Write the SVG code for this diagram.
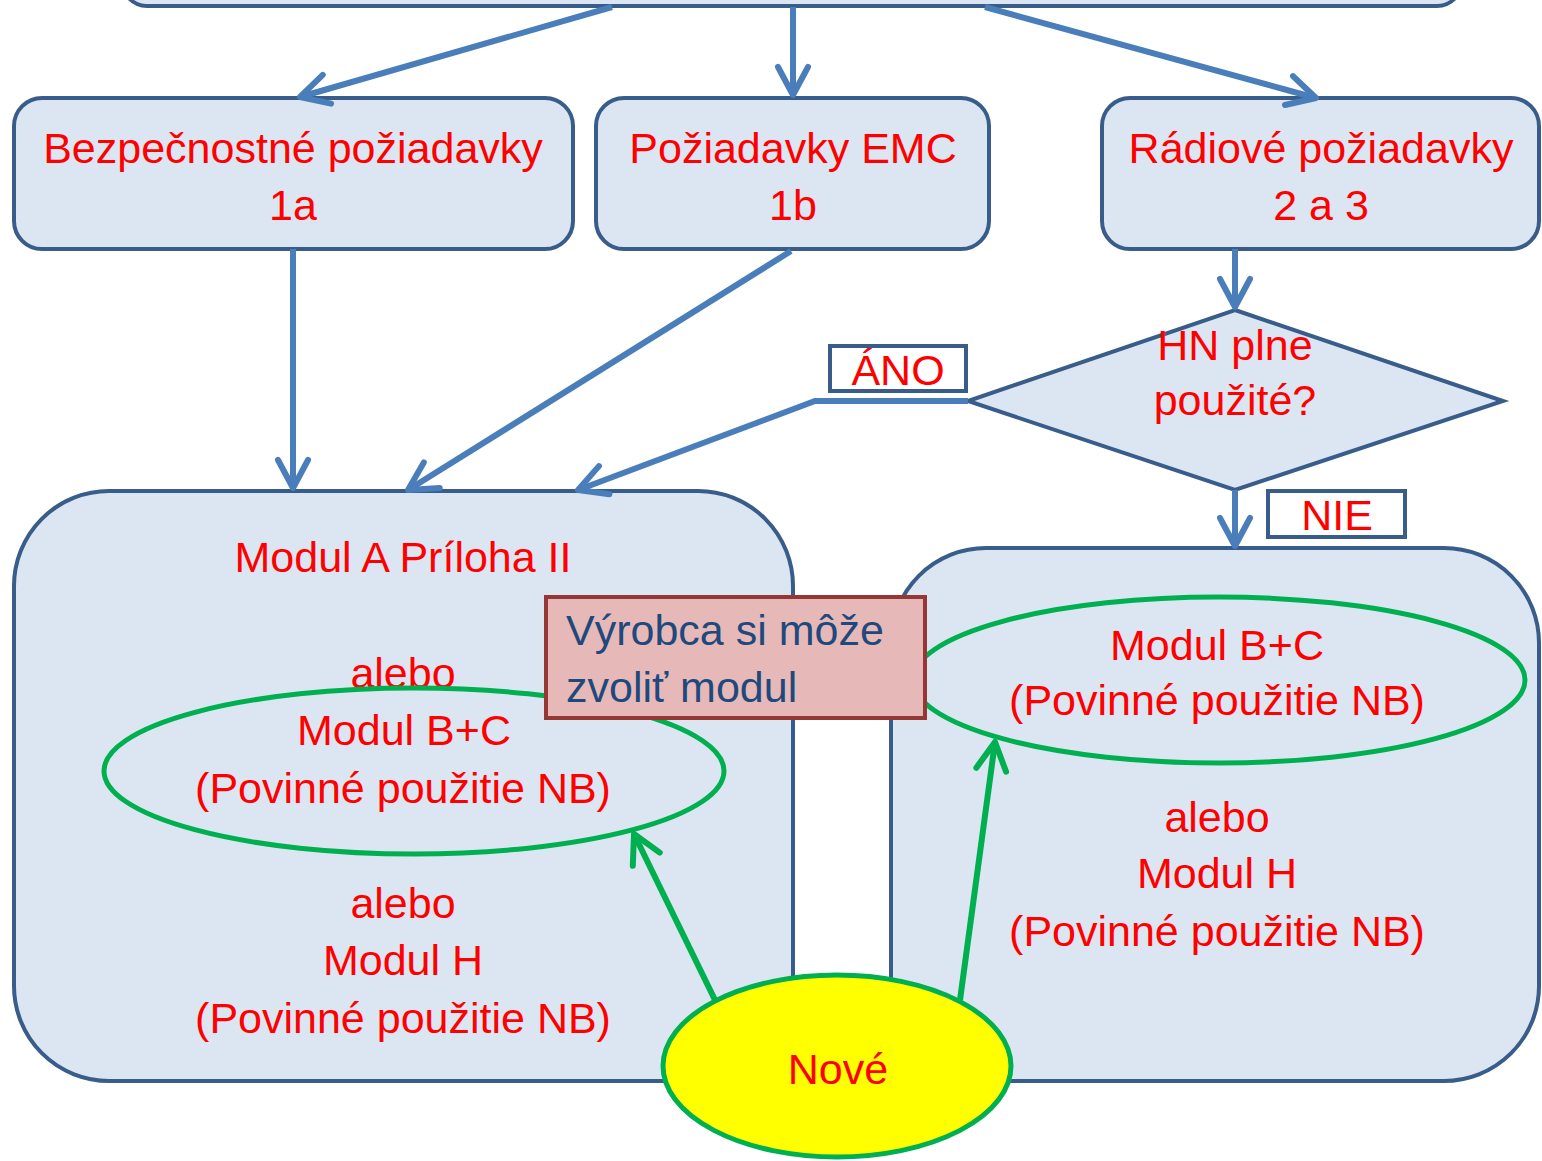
<svg xmlns="http://www.w3.org/2000/svg" width="1542" height="1161" viewBox="0 0 1542 1161">
<style>
.box{fill:#dce6f2;stroke:#385d8a;stroke-width:4}
.lbl{fill:#fff;stroke:#385d8a;stroke-width:4}
.t{font-family:"Liberation Sans",Arial,sans-serif;font-size:43px;fill:#ff0000;text-anchor:middle}
.tb{font-family:"Liberation Sans",Arial,sans-serif;font-size:43px;fill:#1f497d}
.ell{fill:none;stroke:#00b050;stroke-width:5}
.conn{fill:none;stroke:#4a7ebb;stroke-width:6}
.gconn{fill:none;stroke:#00b050;stroke-width:6}
</style>
<defs>
<marker id="ab" markerUnits="userSpaceOnUse" viewBox="0 0 40 40" markerWidth="40" markerHeight="40" refX="34" refY="20" orient="auto">
<path d="M6,5 L34,20 L6,35" fill="none" stroke="#4a7ebb" stroke-width="6" stroke-linecap="round" stroke-linejoin="round"/>
</marker>
<marker id="ag" markerUnits="userSpaceOnUse" viewBox="0 0 40 40" markerWidth="40" markerHeight="40" refX="34" refY="20" orient="auto">
<path d="M6,5 L34,20 L6,35" fill="none" stroke="#00b050" stroke-width="6" stroke-linecap="round" stroke-linejoin="round"/>
</marker>
</defs>
<rect width="1542" height="1161" fill="#ffffff"/>

<g id="top-box">
<rect class="box" x="122" y="-100" width="1340" height="106" rx="25"/>
</g>

<g id="req-1a">
<rect class="box" x="14" y="98" width="559" height="151" rx="28"/>
<text class="t" x="293" y="163">Bezpečnostné požiadavky</text>
<text class="t" x="293" y="220">1a</text>
</g>
<g id="req-1b">
<rect class="box" x="596" y="98" width="393" height="151" rx="28"/>
<text class="t" x="793" y="163">Požiadavky EMC</text>
<text class="t" x="793" y="220">1b</text>
</g>
<g id="req-23">
<rect class="box" x="1102" y="98" width="437" height="151" rx="28"/>
<text class="t" x="1321" y="163">Rádiové požiadavky</text>
<text class="t" x="1321" y="220">2 a 3</text>
</g>

<g id="decision">
<polygon class="box" points="1235,310 1503,401 1235,490 968,401"/>
<text class="t" x="1235" y="360">HN plne</text>
<text class="t" x="1235" y="415">použité?</text>
</g>

<g id="left-box">
<rect class="box" x="14" y="491" width="779" height="590" rx="95"/>
<text class="t" x="403" y="572">Modul A Príloha II</text>
<text class="t" x="403" y="688">alebo</text>
<ellipse class="ell" cx="414" cy="771" rx="310" ry="83"/>
<text class="t" x="404" y="745">Modul B+C</text>
<text class="t" x="403" y="803">(Povinné použitie NB)</text>
<text class="t" x="403" y="918">alebo</text>
<text class="t" x="403" y="975">Modul H</text>
<text class="t" x="403" y="1033">(Povinné použitie NB)</text>
</g>

<g id="right-box">
<rect class="box" x="891" y="548" width="648" height="533" rx="95"/>
<ellipse class="ell" cx="1219" cy="680" rx="306" ry="83"/>
<text class="t" x="1217" y="660">Modul B+C</text>
<text class="t" x="1217" y="715">(Povinné použitie NB)</text>
<text class="t" x="1217" y="832">alebo</text>
<text class="t" x="1217" y="888">Modul H</text>
<text class="t" x="1217" y="946">(Povinné použitie NB)</text>
</g>

<g id="label-ano">
<rect class="lbl" x="830" y="346" width="136" height="45"/>
<text class="t" x="898" y="385">ÁNO</text>
</g>
<g id="label-nie">
<rect class="lbl" x="1268" y="491" width="137" height="46"/>
<text class="t" x="1337" y="530">NIE</text>
</g>

<g id="connectors">
<line class="conn" x1="612" y1="7" x2="300" y2="97" marker-end="url(#ab)"/>
<line class="conn" x1="793" y1="7" x2="793" y2="95" marker-end="url(#ab)"/>
<line class="conn" x1="985" y1="7" x2="1316" y2="98" marker-end="url(#ab)"/>
<line class="conn" x1="293" y1="249" x2="293" y2="488" marker-end="url(#ab)"/>
<line class="conn" x1="791" y1="251" x2="408" y2="490" marker-end="url(#ab)"/>
<line class="conn" x1="1235" y1="249" x2="1235" y2="307" marker-end="url(#ab)"/>
<polyline class="conn" points="968,401 815,401 578,490" marker-end="url(#ab)"/>
<line class="conn" x1="1235" y1="490" x2="1235" y2="546" marker-end="url(#ab)"/>
<line class="gconn" x1="715" y1="1000" x2="634" y2="834" marker-end="url(#ag)"/>
<line class="gconn" x1="960" y1="1000" x2="995" y2="742" marker-end="url(#ag)"/>
</g>

<g id="note">
<rect x="546" y="597" width="379" height="121" fill="#e6b9b8" stroke="#953735" stroke-width="4"/>
<text class="tb" x="566" y="645">Výrobca si môže</text>
<text class="tb" x="566" y="702">zvoliť modul</text>
</g>

<g id="nove">
<ellipse cx="837" cy="1066" rx="174" ry="91" fill="#ffff00" stroke="#00b050" stroke-width="5"/>
<text class="t" x="838" y="1084">Nové</text>
</g>
</svg>
